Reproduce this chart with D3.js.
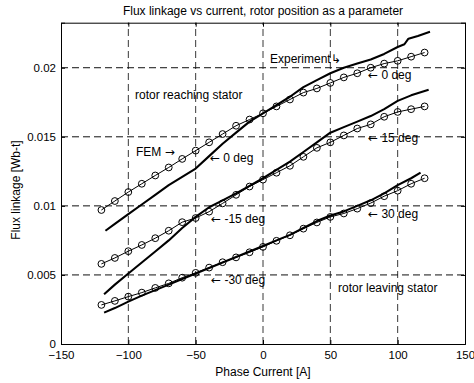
<!DOCTYPE html>
<html>
<head>
<meta charset="utf-8">
<script src="https://cdn.jsdelivr.net/npm/d3@7"></script>
<style>
  body { margin: 0; background: #fff; }
  svg { display: block; }
  text { font-family: "Liberation Sans", Arial, sans-serif; fill: #000; }
  .arr { font-family: "DejaVu Sans", sans-serif; }
</style>
</head>
<body>
<svg id="chart" width="474" height="383"></svg>
<script>
// ---- data ----
const femX = [-120,-110,-100,-90,-80,-70,-60,-50,-40,-30,-20,-10,0,10,20,30,40,50,60,70,80,90,100,110,120];
const fem0  = [0.0097,0.01035,0.0110,0.0116,0.0122,0.01278,0.0134,0.0140,0.0146,0.0152,0.0158,0.01625,0.0167,0.0172,0.0177,0.0182,0.0185,0.0189,0.0193,0.0196,0.0200,0.0203,0.0205,0.0208,0.0211];
const fem15 = [0.0058,0.00623,0.00672,0.00717,0.00766,0.0082,0.00882,0.00912,0.00958,0.01018,0.0108,0.0114,0.0119,0.0124,0.0129,0.01355,0.0142,0.0146,0.0151,0.0156,0.0159,0.01645,0.0168,0.0170,0.0172];
const fem30 = [0.00283,0.00312,0.00343,0.00372,0.00406,0.00439,0.0048,0.00515,0.00553,0.00592,0.00627,0.00664,0.00703,0.00747,0.00787,0.00835,0.0088,0.0092,0.00945,0.0098,0.0102,0.0107,0.0111,0.0116,0.0120];

const exp0X = [-117,-110,-100,-90,-80,-70,-60,-50,-40,-30,-20,-10,0,10,20,30,40,50,60,70,80,90,100,105,108,115,124];
const exp0Y = [0.0082,0.0087,0.0094,0.0101,0.0108,0.0115,0.0121,0.0127,0.0136,0.0145,0.0153,0.0161,0.0167,0.0173,0.0179,0.0186,0.0191,0.0196,0.0200,0.0203,0.0206,0.0210,0.0215,0.0217,0.0221,0.0223,0.0226];
const exp15X = [-118,-110,-100,-90,-80,-70,-60,-50,-40,-30,-20,-10,0,10,20,30,40,50,60,70,80,90,100,110,123];
const exp15Y = [0.0036,0.0043,0.0051,0.0059,0.0067,0.0075,0.0084,0.0092,0.0099,0.0104,0.0109,0.01145,0.0120,0.0126,0.0132,0.0139,0.0146,0.0153,0.0157,0.0161,0.0165,0.0170,0.0176,0.0180,0.0184];
const exp30X = [-118,-110,-100,-90,-80,-70,-60,-50,-40,-30,-20,-10,0,10,20,30,40,50,60,70,80,90,100,110,117];
const exp30Y = [0.00227,0.0026,0.00307,0.0035,0.0039,0.0043,0.0047,0.0051,0.0055,0.0059,0.0063,0.0067,0.0071,0.0075,0.0079,0.0084,0.0089,0.0093,0.0096,0.0100,0.0104,0.0109,0.0115,0.0120,0.0124];

const xTicks = [-150,-100,-50,0,50,100,150];
const yTicks = [0,0.005,0.01,0.015,0.02];
const yTickLabels = ["0","0.005","0.01","0.015","0.02"];

const titleText = "Flux linkage vs current, rotor position as a parameter";
const xLabel = "Phase Current [A]";
const yLabel = "Flux linkage [Wb-t]";

// pre: arrow before text, post: arrow after text
const notes = [
  {t:"rotor reaching stator", pre:"", post:"", x:-95,  y:0.01775},
  {t:"FEM ",        pre:"", post:"\u2192", x:-94.3,y:0.01362},
  {t:" 0 deg",      pre:"\u2190", post:"", x:-39.4,y:0.01319},
  {t:" -15 deg",    pre:"\u2190", post:"", x:-38.6,y:0.00877},
  {t:" -30 deg",    pre:"\u2190", post:"", x:-38.6,y:0.00435},
  {t:"Experiment",  pre:"", post:"\u21b3", x:5.2,  y:0.02033},
  {t:" 0 deg",      pre:"\u2190", post:"", x:78,   y:0.0192},
  {t:" 15 deg",     pre:"\u2190", post:"", x:78,   y:0.0146},
  {t:" 30 deg",     pre:"\u2190", post:"", x:78,   y:0.00913},
  {t:"rotor leaving stator", pre:"", post:"", x:55.7, y:0.0038}
];

// ---- layout ----
const L = 61, R = 465, T = 22.7, B = 344;
const svg = d3.select("#chart");
const x = d3.scaleLinear().domain([-150,150]).range([L,R]);
const y = d3.scaleLinear().domain([0,0.02326]).range([B,T]);

// grid
const grid = svg.append("g");
grid.selectAll("line.gx").data(xTicks.filter(v=>v>-150 && v<150)).join("line")
  .attr("x1",d=>x(d)).attr("x2",d=>x(d)).attr("y1",B).attr("y2",T)
  .attr("stroke","#222").attr("stroke-width",0.9).attr("stroke-dasharray","7,4");
grid.selectAll("line.gy").data(yTicks.filter(v=>v>0)).join("line")
  .attr("y1",d=>y(d)).attr("y2",d=>y(d)).attr("x1",L).attr("x2",R)
  .attr("stroke","#111").attr("stroke-width",1).attr("stroke-dasharray","7,4");

// axes
const fmtY = d => yTickLabels[yTicks.indexOf(d)];
svg.append("g").attr("transform",`translate(0,${B})`)
  .call(d3.axisBottom(x).tickValues(xTicks).tickSize(-4).tickPadding(7).tickFormat(d3.format("d")));
svg.append("g").attr("transform",`translate(${L},0)`)
  .call(d3.axisLeft(y).tickValues(yTicks).tickSize(-4).tickPadding(5).tickFormat(fmtY));
svg.append("g").attr("transform",`translate(0,${T})`)
  .call(d3.axisTop(x).tickValues(xTicks).tickSize(-4).tickFormat(""));
svg.append("g").attr("transform",`translate(${R},0)`)
  .call(d3.axisRight(y).tickValues(yTicks).tickSize(-4).tickFormat(""));
svg.selectAll(".tick text").attr("font-family","Liberation Sans, Arial, sans-serif").attr("font-size",11.5).attr("fill","#000");
svg.selectAll(".domain").attr("stroke","#000").attr("stroke-width",1);
svg.selectAll(".tick line").attr("stroke","#000");

// experiment lines
const line = d3.line().x(d=>x(d[0])).y(d=>y(d[1]));
[[exp0X,exp0Y],[exp15X,exp15Y],[exp30X,exp30Y]].forEach(([xs,ys])=>{
  svg.append("path").attr("d",line(xs.map((v,i)=>[v,ys[i]])))
    .attr("fill","none").attr("stroke","#000").attr("stroke-width",2.1).attr("stroke-linejoin","round");
});

// FEM lines with circles
[fem0,fem15,fem30].forEach(ys=>{
  const pts = femX.map((v,i)=>[v,ys[i]]);
  svg.append("path").attr("d",line(pts)).attr("fill","none").attr("stroke","#000").attr("stroke-width",1);
  svg.append("g").selectAll("circle").data(pts).join("circle")
    .attr("cx",d=>x(d[0])).attr("cy",d=>y(d[1])).attr("r",3.4)
    .attr("fill","none").attr("stroke","#000").attr("stroke-width",1);
});

// annotations
const nt = svg.append("g").selectAll("text").data(notes).join("text")
  .attr("x",d=>x(d.x)).attr("y",d=>y(d.y)).attr("font-size",12);
nt.each(function(d){
  const s = d3.select(this);
  if (d.pre) s.append("tspan").attr("class","arr").text(d.pre);
  s.append("tspan").text(d.t);
  if (d.post) s.append("tspan").attr("class","arr").text(d.post);
});

// title & labels
svg.append("text").attr("x",(L+R)/2).attr("y",15).attr("text-anchor","middle")
  .attr("font-size",12).text(titleText);
svg.append("text").attr("x",(L+R)/2).attr("y",376).attr("text-anchor","middle")
  .attr("font-size",12).text(xLabel);
svg.append("text").attr("transform",`translate(20,190) rotate(-90)`).attr("text-anchor","middle")
  .attr("font-size",12).text(yLabel);
</script>
</body>
</html>
